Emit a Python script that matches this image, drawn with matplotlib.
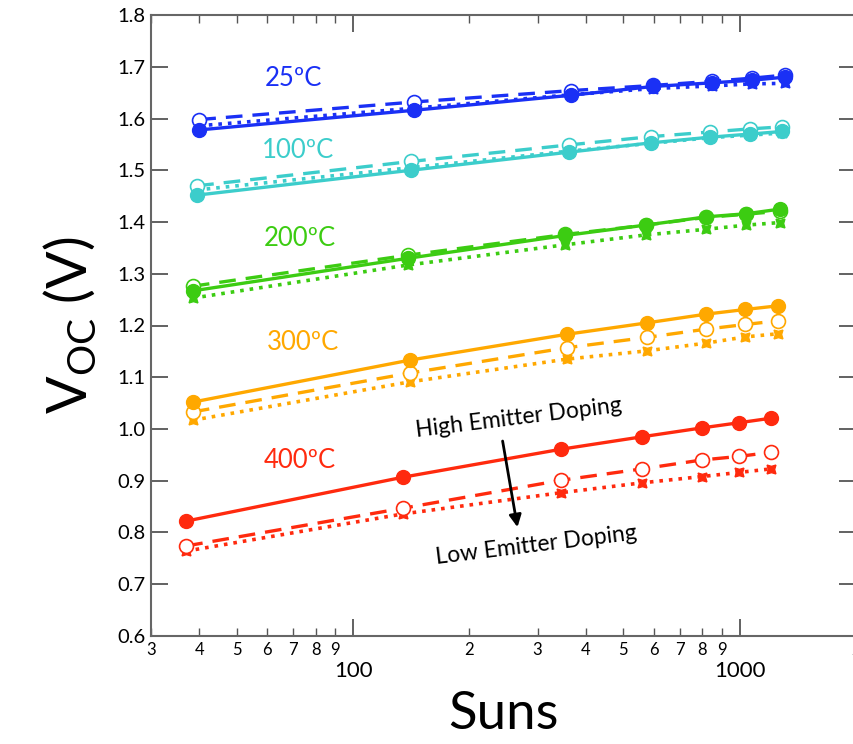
import matplotlib.pyplot as plt
import matplotlib.ticker as mticker
import numpy as np

plt.rcParams['font.family'] = ['Lato', 'DejaVu Sans']

# suns (x) for each temperature
suns_25 = [40, 144, 367, 598, 849, 1077, 1311]
suns_100 = [39.5, 141, 362, 590, 840, 1065, 1290]
suns_200 = [38.5, 139, 354, 571, 820, 1040, 1274]
suns_300 = [38.5, 140, 357, 575, 820, 1035, 1255]
suns_400 = [37, 135, 346, 560, 797, 995, 1209]

# Voc [V]: high emitter doping (solid), medium (dashed), low (dotted)
v25_hi = [1.578, 1.616, 1.645, 1.662, 1.669, 1.674, 1.680]
v25_mid = [1.598, 1.632, 1.654, 1.664, 1.672, 1.678, 1.684]
v25_lo = [1.586, 1.620, 1.646, 1.658, 1.663, 1.667, 1.668]

v100_hi = [1.452, 1.500, 1.535, 1.553, 1.564, 1.570, 1.575]
v100_mid = [1.470, 1.517, 1.549, 1.565, 1.574, 1.580, 1.584]
v100_lo = [1.462, 1.505, 1.537, 1.552, 1.563, 1.568, 1.572]

v200_hi = [1.267, 1.330, 1.374, 1.394, 1.410, 1.416, 1.425]
v200_mid = [1.276, 1.336, 1.376, 1.394, 1.409, 1.415, 1.421]
v200_lo = [1.253, 1.317, 1.356, 1.375, 1.386, 1.394, 1.399]

v300_hi = [1.052, 1.133, 1.183, 1.205, 1.222, 1.231, 1.238]
v300_mid = [1.033, 1.108, 1.157, 1.177, 1.193, 1.202, 1.209]
v300_lo = [1.017, 1.091, 1.135, 1.151, 1.166, 1.178, 1.184]

v400_hi = [0.822, 0.907, 0.961, 0.985, 1.002, 1.012, 1.021]
v400_mid = [0.774, 0.847, 0.901, 0.923, 0.940, 0.947, 0.955]
v400_lo = [0.764, 0.836, 0.877, 0.896, 0.908, 0.916, 0.923]

temp_labels = ['25ºC', '100ºC', '200ºC', '300ºC', '400ºC']
colors = ['#1a30f5', '#3ccdcb', '#3ccc12', '#ffa800', '#ff2a0e']
label_pos = [(70, 1.678), (72, 1.539), (73, 1.369), (74, 1.168), (73, 0.940)]

series = [
    (suns_25, v25_hi, v25_mid, v25_lo),
    (suns_100, v100_hi, v100_mid, v100_lo),
    (suns_200, v200_hi, v200_mid, v200_lo),
    (suns_300, v300_hi, v300_mid, v300_lo),
    (suns_400, v400_hi, v400_mid, v400_lo),
]

fig = plt.figure(figsize=(8.54, 7.44), dpi=100)
ax = fig.add_axes([0.1768, 0.1452, 0.8255, 0.8346])

star4 = (4, 1, 45)
for (x, hi, mid, lo), c, lab, (tx, ty) in zip(series, colors, temp_labels, label_pos):
    ax.plot(x, lo, ':', color=c, lw=2.6, marker=star4, ms=9, mfc=c, mec=c)
    ax.plot(x, mid, '--', color=c, lw=2.4, dashes=(5, 3), marker='o', ms=10,
            mfc='white', mec=c, mew=1.2)
    ax.plot(x, hi, '-', color=c, lw=2.4, marker='o', ms=10, mfc=c, mec=c)
    ax.text(tx, ty, lab, color=c, fontsize=18.5, ha='center', va='center')

ax.text(269, 1.021, 'High Emitter Doping', fontsize=16.5, rotation=7,
        ha='center', va='center')
ax.text(298, 0.776, 'Low Emitter Doping', fontsize=16.5, rotation=7,
        ha='center', va='center')
ax.annotate('', xy=(267, 0.805), xytext=(243, 0.982),
            arrowprops=dict(arrowstyle='-|>', color='black', lw=2,
                            mutation_scale=18))

ax.set_xscale('log')
ax.set_xlim(30, 2000)
ax.set_ylim(0.6, 1.8)

ax.xaxis.set_major_locator(mticker.FixedLocator([100, 1000]))
ax.xaxis.set_major_formatter(mticker.FixedFormatter(['100', '1000']))
minor_x = [30, 40, 50, 60, 70, 80, 90, 200, 300, 400, 500, 600, 700, 800, 900, 2000]
ax.xaxis.set_minor_locator(mticker.FixedLocator(minor_x))
ax.xaxis.set_minor_formatter(mticker.FixedFormatter([str(v)[0] for v in minor_x]))

ax.yaxis.set_major_locator(mticker.MultipleLocator(0.1))
ax.yaxis.set_major_formatter(mticker.FormatStrFormatter('%.1f'))

ax.tick_params(axis='both', which='both', direction='in', top=True, right=True,
               color='#555555')
ax.tick_params(axis='x', which='major', length=12, width=1.3, labelsize=16, pad=18)
ax.tick_params(axis='x', which='minor', length=6, width=1, labelsize=12, pad=4)
ax.tick_params(axis='y', which='major', length=12, width=1.3, labelsize=14.5, pad=4)

for s in ax.spines.values():
    s.set_color('#666666')
    s.set_linewidth(1.5)

ax.set_xlabel('Suns', fontsize=38, labelpad=7)
ax.set_ylabel('V$_{\\mathregular{OC}}$ (V)', fontsize=40, labelpad=14)

fig.savefig('out.png', dpi=100)
